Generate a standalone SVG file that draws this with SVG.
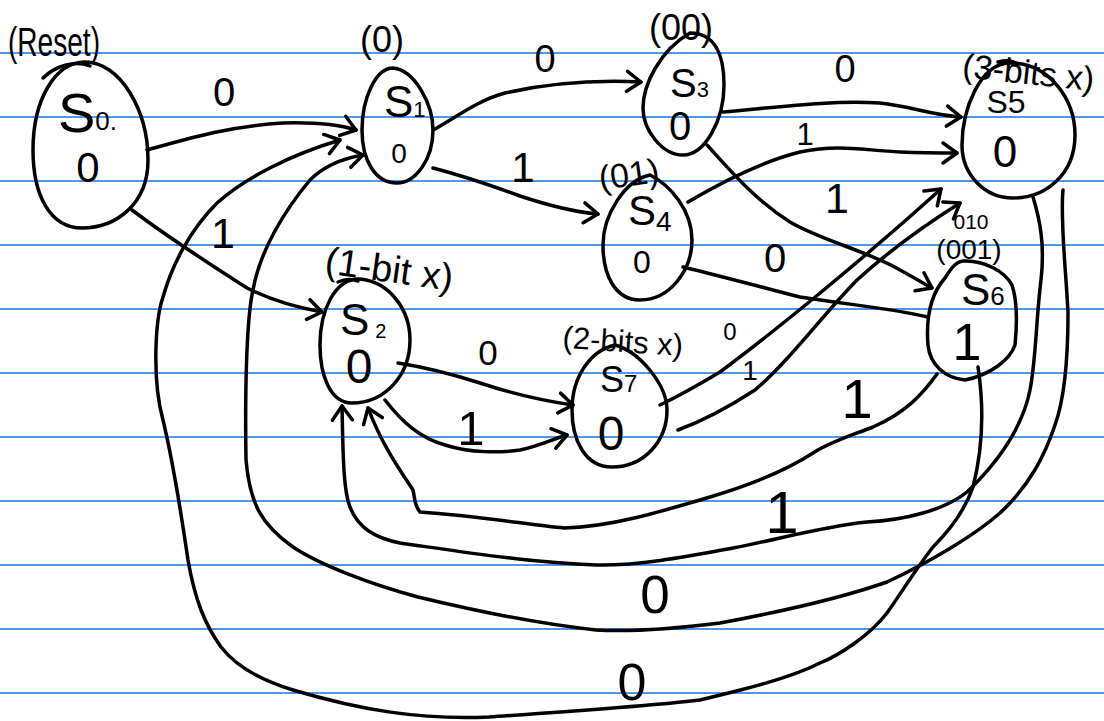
<svg xmlns="http://www.w3.org/2000/svg" width="1104" height="721" viewBox="0 0 1104 721">
<style>
.rule{stroke:#4f97ea;stroke-width:2}
.shape{fill:none;stroke:#000;stroke-width:3.5;stroke-linecap:round;stroke-linejoin:round}
.edge{fill:none;stroke:#000;stroke-width:3.5;stroke-linecap:round;stroke-linejoin:round}
.arr{marker-end:url(#arr)}
text{font-family:"Liberation Sans",Arial,sans-serif;fill:#000}
.lbl{text-anchor:middle}
</style>
<defs>
<marker id="arr" viewBox="-20 -15 30 30" markerWidth="30" markerHeight="30" refX="0" refY="0" orient="auto" markerUnits="userSpaceOnUse">
<path d="M -14 -10 L 0 0 L -14 10" fill="none" stroke="#000" stroke-width="3.5" stroke-linecap="round" stroke-linejoin="round"/>
</marker>
</defs>
<rect width="1104" height="721" fill="#fff"/>
<g id="paper">
<line class="rule" x1="0" y1="53" x2="1104" y2="53"/>
<line class="rule" x1="0" y1="117" x2="1104" y2="117"/>
<line class="rule" x1="0" y1="181" x2="1104" y2="181"/>
<line class="rule" x1="0" y1="245" x2="1104" y2="245"/>
<line class="rule" x1="0" y1="309" x2="1104" y2="309"/>
<line class="rule" x1="0" y1="373" x2="1104" y2="373"/>
<line class="rule" x1="0" y1="437" x2="1104" y2="437"/>
<line class="rule" x1="0" y1="501" x2="1104" y2="501"/>
<line class="rule" x1="0" y1="565" x2="1104" y2="565"/>
<line class="rule" x1="0" y1="629" x2="1104" y2="629"/>
<line class="rule" x1="0" y1="693" x2="1104" y2="693"/>
</g>
<g id="connectors">
<path class="edge arr" d="M 147 150 C 190 138, 230 126, 283 123 C 320 122, 340 125, 356 130"/>
<path class="edge arr" d="M 132 210 C 165 235, 200 258, 247 288 C 275 302, 300 308, 322 312"/>
<path class="edge arr" d="M 433 130 C 455 118, 478 100, 505 93 C 550 83, 600 80, 641 82"/>
<path class="edge arr" d="M 433 168 C 460 175, 490 185, 520 196 C 550 206, 575 212, 598 214"/>
<path class="edge arr" d="M 723 112 C 780 107, 830 100, 880 103 C 910 106, 930 115, 961 117"/>
<path class="edge arr" d="M 688 202 C 720 183, 760 162, 800 152 C 840 144, 860 150, 900 152 C 925 153, 940 153, 957 153"/>
<path class="edge arr" d="M 707 145 C 730 170, 755 200, 790 222 C 820 240, 870 252, 900 270 C 915 278, 924 284, 932 288"/>
<path class="edge" d="M 683 267 C 720 276, 765 288, 800 297 C 850 305, 890 308, 928 317"/>
<path class="edge arr" d="M 660 405 C 685 393, 700 384, 720 372 C 770 335, 860 262, 941 189"/>
<path class="edge arr" d="M 678 430 C 705 420, 732 405, 755 390 C 790 360, 820 318, 857 280 C 890 250, 925 225, 960 203"/>
<path class="edge arr" d="M 398 363 C 430 368, 455 375, 480 383 C 510 393, 545 401, 573 405"/>
<path class="edge arr" d="M 385 400 C 402 422, 420 438, 445 445 C 470 453, 500 453, 520 450 C 540 446, 555 438, 567 435"/>
<path class="edge arr" d="M 937 374 C 922 395, 905 413, 873 427 C 850 436, 830 442, 813 453 C 790 468, 760 482, 710 497 C 660 512, 610 527, 564 528 C 530 525, 480 516, 420 512 C 414 505, 415 498, 413 490 C 400 470, 382 445, 368 408"/>
<path class="edge arr" d="M 1033 197 C 1040 220, 1045 245, 1041 280 C 1036 320, 1036 360, 1030 390 C 1022 430, 995 465, 967 492 C 945 510, 905 520, 867 522 C 825 526, 775 540, 733 548 C 690 556, 640 566, 596 565 C 530 563, 450 550, 400 543 C 375 538, 358 528, 350 507 C 343 490, 343 450, 342 406"/>
<path class="edge arr" d="M 1063 190 C 1060 220, 1066 270, 1068 313 C 1068 360, 1064 400, 1055 425 C 1045 455, 1030 485, 1000 513 C 975 535, 930 562, 887 582 C 850 595, 790 610, 720 623 C 680 628, 630 632, 596 630 C 540 624, 480 612, 418 597 C 370 584, 320 565, 293 547 C 262 525, 250 505, 246 460 C 245 400, 246 320, 253 290 C 260 250, 285 210, 310 180 C 325 165, 345 158, 363 155"/>
<path class="edge arr" d="M 978 367 C 983 400, 985 440, 973 487 C 965 510, 950 530, 933 547 C 915 570, 900 595, 887 613 C 870 635, 840 655, 820 663 C 790 678, 750 688, 700 700 C 640 707, 560 712, 489 717 C 420 720, 360 710, 293 690 C 260 680, 235 665, 221 647 C 205 625, 195 600, 188 560 C 182 520, 175 470, 163 420 C 152 380, 155 320, 163 297 C 172 265, 190 230, 217 203 C 245 178, 290 155, 340 140"/>
<text class="lbl" x="224" y="106" font-size="40">0</text>
<text class="lbl" x="223" y="248" font-size="43">1</text>
<text class="lbl" x="545" y="72" font-size="38">0</text>
<text class="lbl" x="523" y="182" font-size="42">1</text>
<text class="lbl" x="845" y="82" font-size="38">0</text>
<text class="lbl" x="805" y="145" font-size="31">1</text>
<text class="lbl" x="837" y="213" font-size="43">1</text>
<text class="lbl" x="775" y="272" font-size="40">0</text>
<text class="lbl" x="730" y="340" font-size="24">0</text>
<text class="lbl" x="750" y="380" font-size="28">1</text>
<text class="lbl" x="488" y="365" font-size="35">0</text>
<text class="lbl" x="471" y="445" font-size="49">1</text>
<text class="lbl" x="857" y="418" font-size="56">1</text>
<text class="lbl" x="782" y="533" font-size="60">1</text>
<text class="lbl" x="655" y="613" font-size="53">0</text>
<text class="lbl" x="632" y="700" font-size="52">0</text>
</g>
<g id="S0">
<path class="shape" d="M 85 62 C 120 62, 148 110, 148 160 C 148 205, 115 228, 82 228 C 50 228, 33 195, 33 150 C 33 100, 55 62, 85 62 Z"/>
<path class="shape" d="M 43 78 C 55 66, 75 60, 90 66"/>
<text x="8" y="56" font-size="40" textLength="92" lengthAdjust="spacingAndGlyphs">(Reset)</text>
<text x="58" y="132"><tspan font-size="56">S</tspan><tspan font-size="26" dy="-2">0.</tspan></text>
<text class="lbl" x="88" y="182" font-size="42">0</text>
</g>
<g id="S1">
<path class="shape" d="M 393 68 C 415 70, 433 105, 433 130 C 433 160, 415 183, 397 183 C 375 183, 362 160, 362 130 C 362 100, 375 68, 393 68 Z"/>
<text class="lbl" x="382" y="52" font-size="36">(0)</text>
<text x="384" y="117"><tspan font-size="44">S</tspan><tspan font-size="22">1</tspan></text>
<text class="lbl" x="399" y="163" font-size="28">0</text>
</g>
<g id="S3">
<path class="shape" d="M 690 33 C 715 33, 724 55, 724 85 C 724 120, 705 155, 683 155 C 662 155, 643 130, 643 108 C 643 85, 660 50, 690 33 Z"/>
<text class="lbl" x="681" y="40" font-size="36">(00)</text>
<text x="670" y="97"><tspan font-size="40">S</tspan><tspan font-size="22">3</tspan></text>
<text class="lbl" x="680" y="140" font-size="40">0</text>
</g>
<g id="S5">
<path class="shape" d="M 1010 63 C 1050 63, 1075 100, 1075 135 C 1075 175, 1045 198, 1013 198 C 985 198, 962 175, 962 145 C 962 110, 980 63, 1010 63 Z"/>
<path class="shape" d="M 998 62 C 1005 60, 1012 60, 1018 64"/>
<text class="lbl" x="1028" y="84" font-size="34" transform="rotate(6 1028 78)">(3-bits x)</text>
<text class="lbl" x="1006" y="113" font-size="32">S5</text>
<text class="lbl" x="1005" y="167" font-size="44">0</text>
</g>
<g id="S4">
<path class="shape" d="M 650 175 C 670 185, 692 210, 692 240 C 692 270, 670 300, 640 300 C 615 300, 603 275, 603 245 C 603 215, 625 180, 650 175 Z"/>
<text class="lbl" x="629" y="186" font-size="34" transform="rotate(-8 629 175)">(01)</text>
<text x="628" y="225"><tspan font-size="42">S</tspan><tspan font-size="28" dy="6">4</tspan></text>
<text class="lbl" x="642" y="273" font-size="32">0</text>
</g>
<g id="S6">
<path class="shape" d="M 963 261 C 985 260, 1005 272, 1012 285 C 1017 300, 1017 325, 1015 345 C 1010 360, 990 375, 965 380 C 945 378, 930 365, 928 345 C 926 320, 930 295, 945 278 C 950 270, 955 262, 963 261 Z"/>
<text class="lbl" x="971" y="229" font-size="21">010</text>
<text class="lbl" x="969" y="259" font-size="28">(001)</text>
<text x="961" y="305"><tspan font-size="44">S</tspan><tspan font-size="26">6</tspan></text>
<text class="lbl" x="967" y="360" font-size="52">1</text>
</g>
<g id="S2">
<path class="shape" d="M 360 279 C 390 282, 410 310, 410 340 C 410 375, 385 403, 352 403 C 330 403, 320 375, 320 345 C 320 310, 335 278, 360 279 Z"/>
<path class="shape" d="M 338 282 C 345 279, 352 279, 358 281"/>
<text class="lbl" x="389" y="282" font-size="38" transform="rotate(8 389 272)">(1-bit x)</text>
<text x="340" y="335"><tspan font-size="44">S</tspan><tspan font-size="20" dx="6" dy="3">2</tspan></text>
<text class="lbl" x="359" y="383" font-size="48">0</text>
</g>
<g id="S7">
<path class="shape" d="M 615 345 C 640 352, 667 385, 667 410 C 667 440, 645 467, 612 467 C 585 467, 572 440, 572 410 C 572 375, 592 350, 615 345 Z"/>
<text class="lbl" x="623" y="352" font-size="31" transform="rotate(4 623 340)">(2-bits x)</text>
<text x="600" y="392"><tspan font-size="36">S</tspan><tspan font-size="24">7</tspan></text>
<text class="lbl" x="611" y="450" font-size="48">0</text>
</g>
</svg>
